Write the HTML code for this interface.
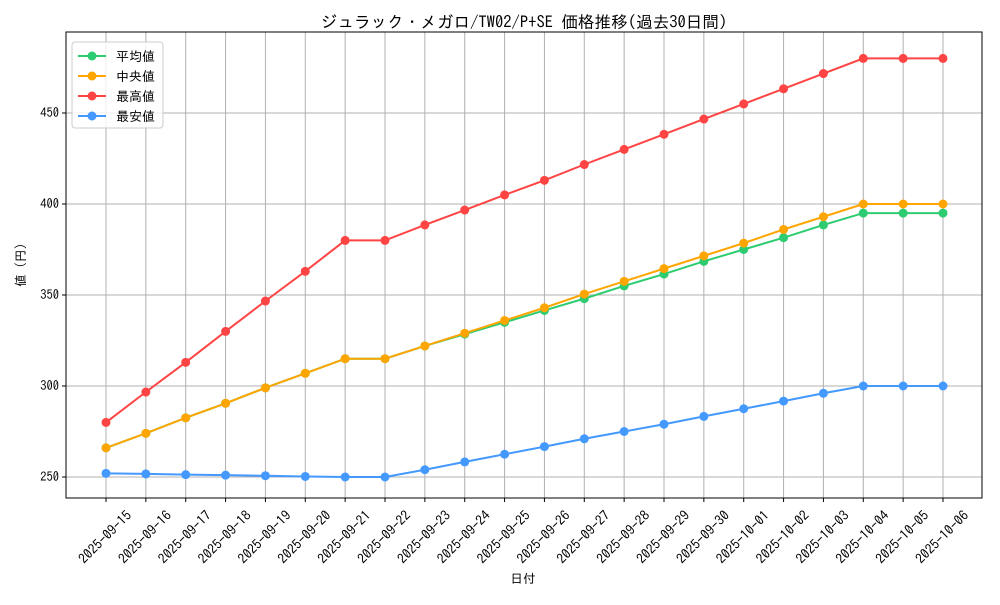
<!DOCTYPE html>
<html><head><meta charset="utf-8"><style>
body{margin:0;background:#fff;}
svg text{font-family:"IPAGothic","Noto Sans CJK JP",monospace;fill:#000;}
</style></head><body>
<svg id="chart" width="1000" height="600" viewBox="0 0 1000 600">
<rect width="1000" height="600" fill="#fff"/>
<text x="524" y="28" font-size="16.6" text-anchor="middle">ジュラック・メガロ/TW02/P+SE 価格推移(過去30日間)</text>
<g id="grid"></g>
<g id="axes"></g>
<g id="series"></g>
<rect x="66" y="32" width="916" height="466" fill="none" stroke="#000" stroke-width="1"/>
<text x="523" y="583" font-size="12.5" text-anchor="middle">日付</text>
<text transform="translate(25,265) rotate(-90)" font-size="12.5" text-anchor="middle">値 (円)</text>
<g id="legend"></g>
</svg>
<script>
const dates=["2025-09-15","2025-09-16","2025-09-17","2025-09-18","2025-09-19","2025-09-20","2025-09-21","2025-09-22","2025-09-23","2025-09-24","2025-09-25","2025-09-26","2025-09-27","2025-09-28","2025-09-29","2025-09-30","2025-10-01","2025-10-02","2025-10-03","2025-10-04","2025-10-05","2025-10-06"];
const meanVals=[266,274,282.5,290.5,299,307,315,315,322,328.5,335,341.5,348,355,361.5,368.5,375,381.5,388.5,395,395,395];
const medianVals=[266,274,282.5,290.5,299,307,315,315,322,329,336,343,350.5,357.5,364.5,371.5,378.5,386,393,400,400,400];
const maxVals=[280,296.7,313,330,346.7,363,380,380,388.5,396.7,405,413,421.7,430,438.3,446.7,455,463.3,471.7,480,480,480];
const minVals=[252,251.7,251.3,251,250.7,250.3,250,250,254,258.3,262.5,266.7,271,275,279,283.3,287.5,291.7,296,300,300,300];
const yTicks=[250,300,350,400,450];
const seriesNames=["平均値","中央値","最高値","最安値"];
const NS="http://www.w3.org/2000/svg";
const xs=i=>106+i*(943-106)/(dates.length-1);
const ys=v=>477-(v-250)*1.82;
function mk(t,a,p){const e=document.createElementNS(NS,t);for(const k in a)e.setAttribute(k,a[k]);p.appendChild(e);return e;}
const grid=document.getElementById('grid'),axes=document.getElementById('axes'),ser=document.getElementById('series'),leg=document.getElementById('legend');
dates.forEach((d,i)=>{
 const g=mk('line',{x1:xs(i),x2:xs(i),y1:32,y2:498,stroke:'#b0b0b0','stroke-width':1},grid);
 
 
 mk('line',{x1:xs(i),x2:xs(i),y1:498,y2:502,stroke:'#000'},axes);
 const t=mk('text',{x:0,y:0,dy:'0.35em','font-size':13.6,'text-anchor':'middle',transform:`translate(${xs(i)-1},${537}) rotate(-45)`},axes);
 t.textContent=d;
 
 
});
yTicks.forEach(v=>{
 const g=mk('line',{x1:66,x2:982,y1:ys(v),y2:ys(v),stroke:'#b0b0b0','stroke-width':1},grid);
 
 
 mk('line',{x1:62,x2:66,y1:ys(v),y2:ys(v),stroke:'#000'},axes);
 const t=mk('text',{x:59,y:ys(v)+4,'font-size':12.5,'text-anchor':'end'},axes);
 t.textContent=v;
 
 
});
const all=[meanVals,medianVals,maxVals,minVals];
const cols=["#2ecc71","#ffa500","#ff4444","#4499ff"];
const keys=["mean","median","max","min"];
all.forEach((vals,k)=>{
 const g=mk('g',{},ser);
 
 
 mk('polyline',{points:vals.map((v,i)=>xs(i)+','+ys(v)).join(' '),fill:'none',stroke:cols[k],'stroke-width':2},g);
 vals.forEach((v,i)=>{
  const c=mk('circle',{cx:xs(i),cy:ys(v),r:4.5,fill:cols[k]},g);
  
  
 });
});
const box=mk('rect',{x:72,y:42,width:91,height:86,rx:3,fill:'#fff','fill-opacity':0.8,stroke:'#ccc'},leg);


seriesNames.forEach((n,k)=>{
 const y=56+k*20;
 const g=mk('g',{},leg);
 
 
 mk('line',{x1:78,x2:106,y1:y,y2:y,stroke:cols[k],'stroke-width':2},g);
 mk('circle',{cx:92,cy:y,r:4.5,fill:cols[k]},g);
 const t=mk('text',{x:116,y:y+5,'font-size':13},g);
 t.textContent=n;
});
</script>
</body></html>
